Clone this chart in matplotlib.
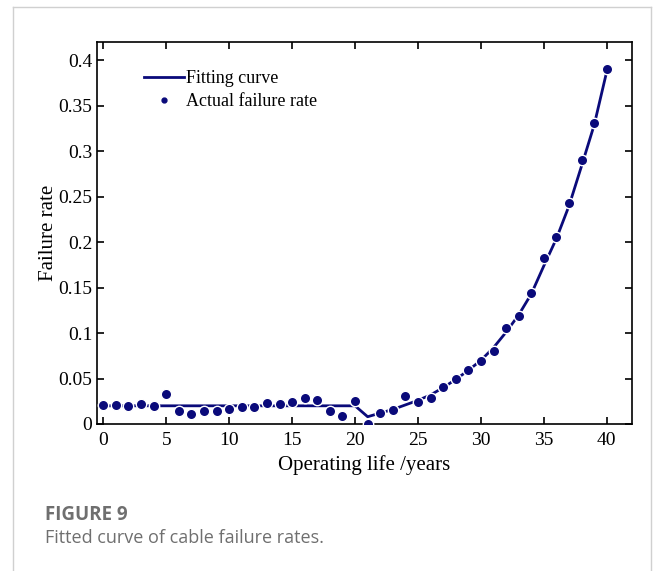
import numpy as np
import matplotlib.pyplot as plt
from matplotlib.lines import Line2D

# Datos
anios = list(range(0, 41))
tasa_real = [0.021, 0.021, 0.020, 0.022, 0.020, 0.033, 0.014, 0.011, 0.014, 0.014,
             0.017, 0.019, 0.019, 0.023, 0.022, 0.024, 0.029, 0.026, 0.014, 0.009,
             0.025, 0.000, 0.012, 0.015, 0.031, 0.024, 0.029, 0.041, 0.049, 0.059,
             0.069, 0.080, 0.106, 0.119, 0.144, 0.183, 0.206, 0.243, 0.290, 0.331,
             0.390]
tasa_ajuste = [0.020] * 21 + [0.008, 0.012, 0.016, 0.021, 0.026, 0.032, 0.040, 0.049,
                              0.059, 0.070, 0.084, 0.101, 0.120, 0.143, 0.174, 0.204,
                              0.240, 0.284, 0.329, 0.388]
y_ticks = [0, 0.05, 0.1, 0.15, 0.2, 0.25, 0.3, 0.35, 0.4]
y_labels = ['0', '0.05', '0.1', '0.15', '0.2', '0.25', '0.3', '0.35', '0.4']

azul = '#0a0a7a'
plt.rcParams['font.family'] = 'Liberation Serif'

fig = plt.figure(figsize=(6.56, 5.71), dpi=100)

# Marco gris de la tarjeta
fig.add_artist(Line2D([13/656, 13/656], [0, 1 - 7/571], color='#d0d0d0', lw=1))
fig.add_artist(Line2D([13/656, 651/656], [1 - 7/571, 1 - 7/571], color='#d0d0d0', lw=1))
fig.add_artist(Line2D([651/656, 651/656], [0, 1 - 7/571], color='#d0d0d0', lw=1))

ax = fig.add_axes([97/656, 1 - 424/571, 535/656, 382/571])

ax.plot(anios, tasa_ajuste, color=azul, lw=2, zorder=2)
ax.plot(anios, tasa_real, 'o', color=azul, ms=7.5, mec='white', mew=1.0, zorder=3)

ax.set_xlim(-0.5, 42)
ax.set_ylim(0, 0.42)
ax.set_xticks([0, 5, 10, 15, 20, 25, 30, 35, 40])
ax.set_yticks(y_ticks)
ax.set_yticklabels(y_labels)
ax.tick_params(direction='in', top=True, right=True, labelsize=14, length=5, width=1.2)
ax.tick_params(axis='x', pad=6)
for s in ax.spines.values():
    s.set_linewidth(1.2)

ax.set_xlabel('Operating life /years', fontsize=15, labelpad=4)
ax.set_ylabel('Failure rate', fontsize=15, labelpad=0)

h1 = Line2D([], [], color=azul, lw=2)
h2 = Line2D([], [], marker='o', ls='none', color=azul, ms=3.5)
ax.legend([h1, h2], ['Fitting curve', 'Actual failure rate'], loc='upper left',
          frameon=False, fontsize=13, handlelength=2.2, handletextpad=0.1,
          borderaxespad=0.3, bbox_to_anchor=(0.065, 0.96), labelspacing=0.35)

fig.text(45/656, 1 - 515/571, 'FIGURE 9', fontsize=13.5, fontweight='bold',
         color='#6f6f6f', family='Open Sans', va='center')
fig.text(45/656, 1 - 538/571, 'Fitted curve of cable failure rates.', fontsize=13,
         color='#6f6f6f', family='Open Sans', va='center')

fig.savefig('out.png', dpi=100)
